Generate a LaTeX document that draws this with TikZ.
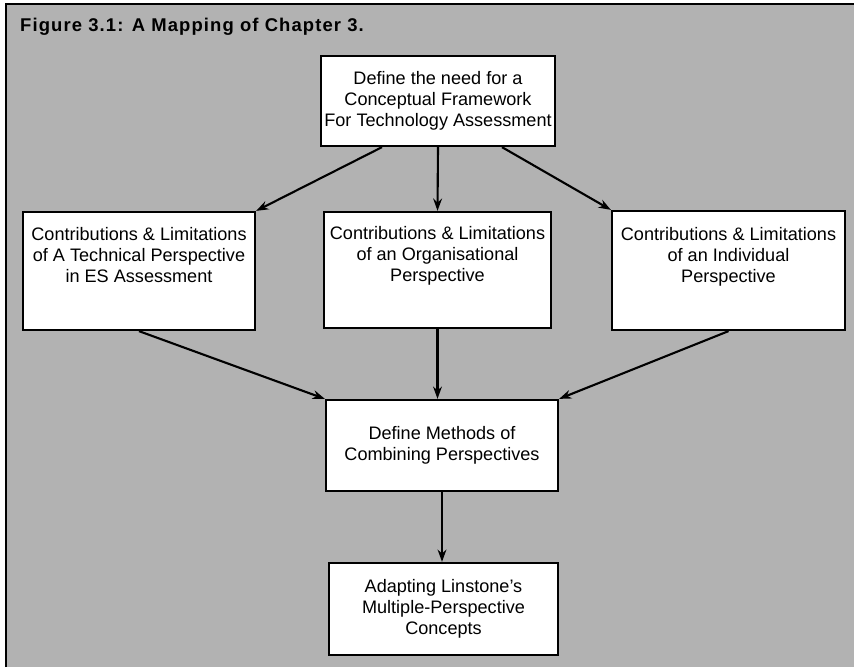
\documentclass[tikz,border=0pt]{standalone}
\usepackage{fontspec}
\setmainfont{Liberation Sans}
\newfontfamily\titlefont[LetterSpace=6]{Liberation Sans}
\usetikzlibrary{arrows.meta}

\tikzset{
box/.style={draw,line width=1.3pt,fill=white,align=center,inner sep=2pt,
  font=\fontsize{10.3}{12}\selectfont},
flow/.style={-{Stealth[length=7pt,width=5pt]},line width=1.2pt}
}

\begin{document}
\begin{tikzpicture}[x=0.02cm,y=-0.02cm]
\useasboundingbox (0,0) rectangle (854,667);
\fill[black!30] (6,4) rectangle (854,667);
\draw[line width=1.6pt] (6,667)--(6,4)--(854,4);
\node[anchor=base west,font=\titlefont\bfseries\fontsize{10.5}{12}\selectfont] (title) at (14,31) {Figure 3.1: A Mapping of Chapter 3.};

% boxes
\node[box,minimum width=4.6cm,minimum height=1.8cm] (need) at (438,101) {Define the need for a\\ Conceptual Framework\\ For Technology Assessment};
\node[box,minimum width=4.64cm,minimum height=2.36cm] (tech) at (139,271) {Contributions \& Limitations\\ of A Technical Perspective\\ in ES Assessment\\[6pt]\mbox{}};
\node[box,minimum width=4.54cm,minimum height=2.32cm] (org) at (437.5,270) {Contributions \& Limitations\\ of an Organisational\\ Perspective\\[6pt]\mbox{}};
\node[box,minimum width=4.66cm,minimum height=2.38cm] (indiv) at (728.5,270.5) {Contributions \& Limitations\\ of an Individual\\ Perspective\\[6pt]\mbox{}};
\node[box,minimum width=4.64cm,minimum height=1.82cm] (comb) at (442,445.5) {Define Methods of\\ Combining Perspectives};
\node[box,minimum width=4.58cm,minimum height=1.84cm] (linst) at (443.5,609) {Adapting Linstone's\\ Multiple-Perspective\\ Concepts};

% arrows
\draw[flow] ([xshift=-1.12cm]need.south) -- (tech.north east);
\draw[flow] (need.south) -- (org.north);
\draw[flow] ([xshift=1.28cm]need.south) -- (indiv.north west);
\draw[flow] (tech.south) -- (comb.north west);
\draw[flow] (org.south) -- (org.south |- comb.north);
\draw[flow] (indiv.south) -- (comb.north east);
\draw[flow] (comb.south) -- (comb.south |- linst.north);
\end{tikzpicture}
\end{document}
